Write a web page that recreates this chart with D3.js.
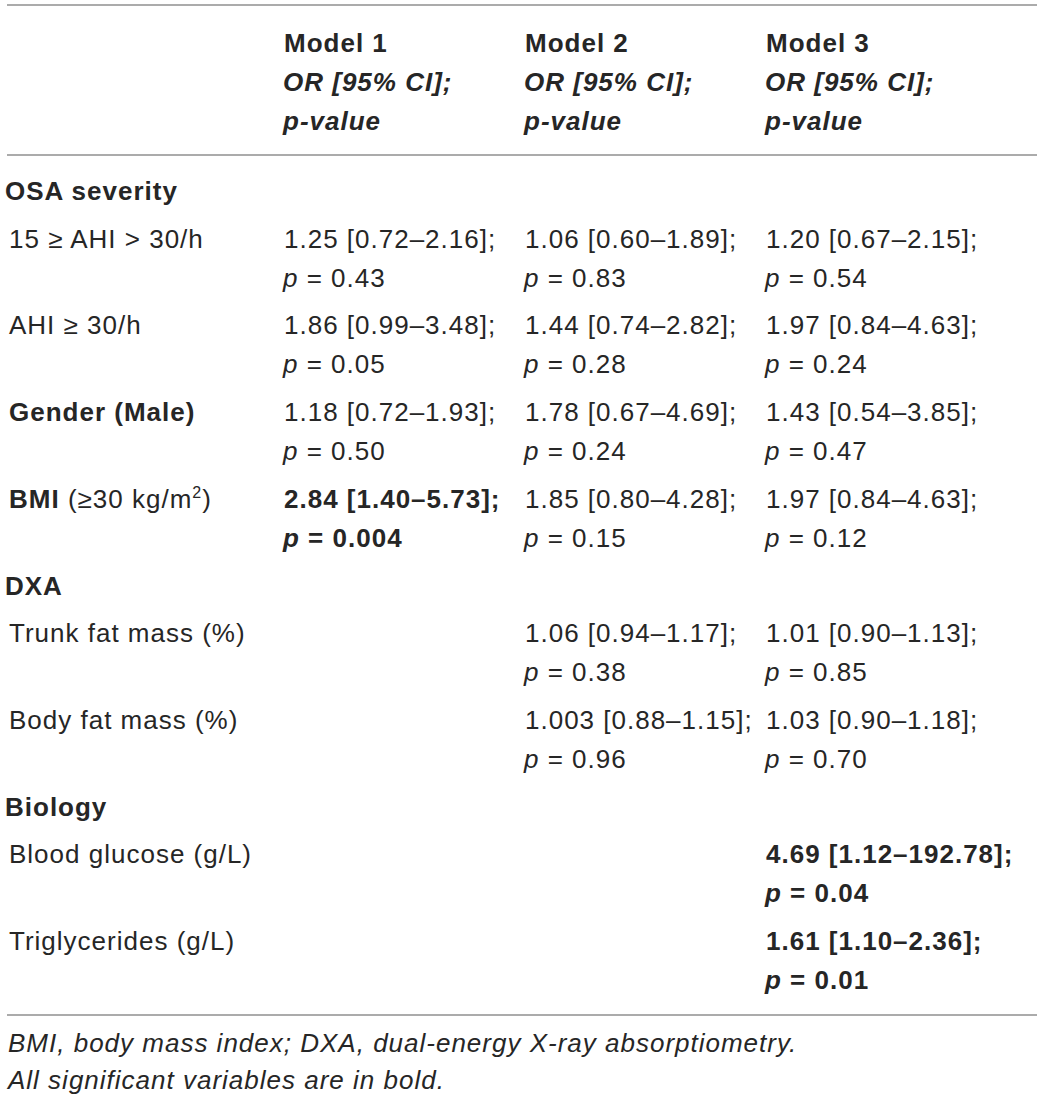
<!DOCTYPE html>
<meta charset="utf-8">
<style>
  body { margin: 0; background: #fff; }
  text { font-family: "Liberation Sans", Arial, Helvetica, sans-serif; font-size: 26px; fill: #262626; letter-spacing: 1px; }
</style>
<body>
<script src="https://cdn.jsdelivr.net/npm/d3@7"></script>
<script>

// column headers
var models = ["Model 1", "Model 2", "Model 3"];
var headerSub = ["OR [95% CI];", "p-value"];

// row labels: kind = section header or item, bold = label in bold
var rowLabels = [
  {label: "OSA severity", kind: "section"},
  {label: "15 \u2265 AHI > 30/h", kind: "item"},
  {label: "AHI \u2265 30/h", kind: "item"},
  {label: "Gender (Male)", kind: "item", bold: true},
  {label: "BMI", kind: "item", bold: true, rest: " (\u226530 kg/m", sup: "2", tail: ")"},
  {label: "DXA", kind: "section"},
  {label: "Trunk fat mass (%)", kind: "item"},
  {label: "Body fat mass (%)", kind: "item"},
  {label: "Biology", kind: "section"},
  {label: "Blood glucose (g/L)", kind: "item"},
  {label: "Triglycerides (g/L)", kind: "item"}
];

// [OR, CI low, CI high, p, significant] per row, null = empty cell
var model1 = [
  null,
  ["1.25", "0.72", "2.16", "0.43"],
  ["1.86", "0.99", "3.48", "0.05"],
  ["1.18", "0.72", "1.93", "0.50"],
  ["2.84", "1.40", "5.73", "0.004", true],
  null, null, null, null, null, null
];
var model2 = [
  null,
  ["1.06", "0.60", "1.89", "0.83"],
  ["1.44", "0.74", "2.82", "0.28"],
  ["1.78", "0.67", "4.69", "0.24"],
  ["1.85", "0.80", "4.28", "0.15"],
  null,
  ["1.06", "0.94", "1.17", "0.38"],
  ["1.003", "0.88", "1.15", "0.96"],
  null, null, null
];
var model3 = [
  null,
  ["1.20", "0.67", "2.15", "0.54"],
  ["1.97", "0.84", "4.63", "0.24"],
  ["1.43", "0.54", "3.85", "0.47"],
  ["1.97", "0.84", "4.63", "0.12"],
  null,
  ["1.01", "0.90", "1.13", "0.85"],
  ["1.03", "0.90", "1.18", "0.70"],
  null,
  ["4.69", "1.12", "192.78", "0.04", true],
  ["1.61", "1.10", "2.36", "0.01", true]
];

var footnotes = [
  "BMI, body mass index; DXA, dual-energy X-ray absorptiometry.",
  "All significant variables are in bold."
];

var width = 1042, height = 1101;
var ruleLeft = 7, ruleRight = 1037;
var lineStep = 39, rowStep = 47.7;

var svg = d3.select("body").append("svg")
    .attr("width", width)
    .attr("height", height);

// column positions
var x = d3.scalePoint()
    .domain(models)
    .range([284, 766]);

// baseline of each row's first line
var rowY = [];
var yy = 200;
rowLabels.forEach(function(r, i) {
  rowY.push(yy);
  yy += (r.kind === "section" ? 0 : lineStep) + rowStep;
});

// rules
var rules = [5, 155, 1015];
svg.selectAll("line.rule")
    .data(rules)
  .enter().append("line")
    .attr("class", "rule")
    .attr("x1", ruleLeft)
    .attr("x2", ruleRight)
    .attr("y1", function(d) { return d; })
    .attr("y2", function(d) { return d; })
    .style("stroke", "#8f8f8f")
    .style("stroke-width", 1.5);

// header
var head = svg.selectAll("g.head")
    .data(models)
  .enter().append("g")
    .attr("class", "head")
    .attr("transform", function(d) { return "translate(" + x(d) + ",0)"; });

head.append("text")
    .attr("y", 52)
    .style("font-weight", "bold")
    .text(function(d) { return d; });

head.selectAll("text.sub")
    .data(headerSub)
  .enter().append("text")
    .attr("class", "sub")
    .attr("y", function(d, i) { return 91 + i * 38.5; })
    .attr("x", -1)
    .style("font-weight", "bold")
    .style("font-style", "italic")
    .text(function(d) { return d; });

// row labels
var labels = svg.selectAll("text.label")
    .data(rowLabels)
  .enter().append("text")
    .attr("class", "label")
    .attr("x", function(d) { return d.kind === "section" ? 5 : 9; })
    .attr("y", function(d, i) { return rowY[i]; });

labels.append("tspan")
    .style("font-weight", function(d) { return d.kind === "section" || d.bold ? "bold" : "normal"; })
    .text(function(d) { return d.label; });

labels.filter(function(d) { return d.rest; })
    .each(function(d) {
      var t = d3.select(this);
      t.append("tspan").text(d.rest);
      t.append("tspan").attr("dy", -10).style("font-size", "16px").text(d.sup);
      t.append("tspan").attr("dy", 10).text(d.tail);
    });

// cells
var cols = [model1, model2, model3];
cols.forEach(function(col, ci) {
  var cells = svg.selectAll("g.cell" + ci)
      .data(col.map(function(v, i) { return {v: v, i: i}; }).filter(function(d) { return d.v; }))
    .enter().append("g")
      .attr("class", "cell" + ci)
      .style("font-weight", function(d) { return d.v[4] ? "bold" : "normal"; });

  cells.append("text")
      .attr("x", x(models[ci]))
      .attr("y", function(d) { return rowY[d.i]; })
      .style("font-weight", "inherit")
      .text(function(d) { return d.v[0] + " [" + d.v[1] + "\u2013" + d.v[2] + "];"; });

  var p = cells.append("text")
      .attr("x", x(models[ci]) - 1)
      .attr("y", function(d) { return rowY[d.i] + lineStep; })
      .style("font-weight", "inherit");
  p.append("tspan")
      .style("font-style", "italic")
      .text("p");
  p.append("tspan")
      .text(function(d) { return " = " + d.v[3]; });
});

// footnotes
svg.selectAll("text.foot")
    .data(footnotes)
  .enter().append("text")
    .attr("class", "foot")
    .attr("x", 8)
    .attr("y", function(d, i) { return 1052 + i * 37; })
    .style("font-style", "italic")
    .text(function(d) { return d; });

</script>
